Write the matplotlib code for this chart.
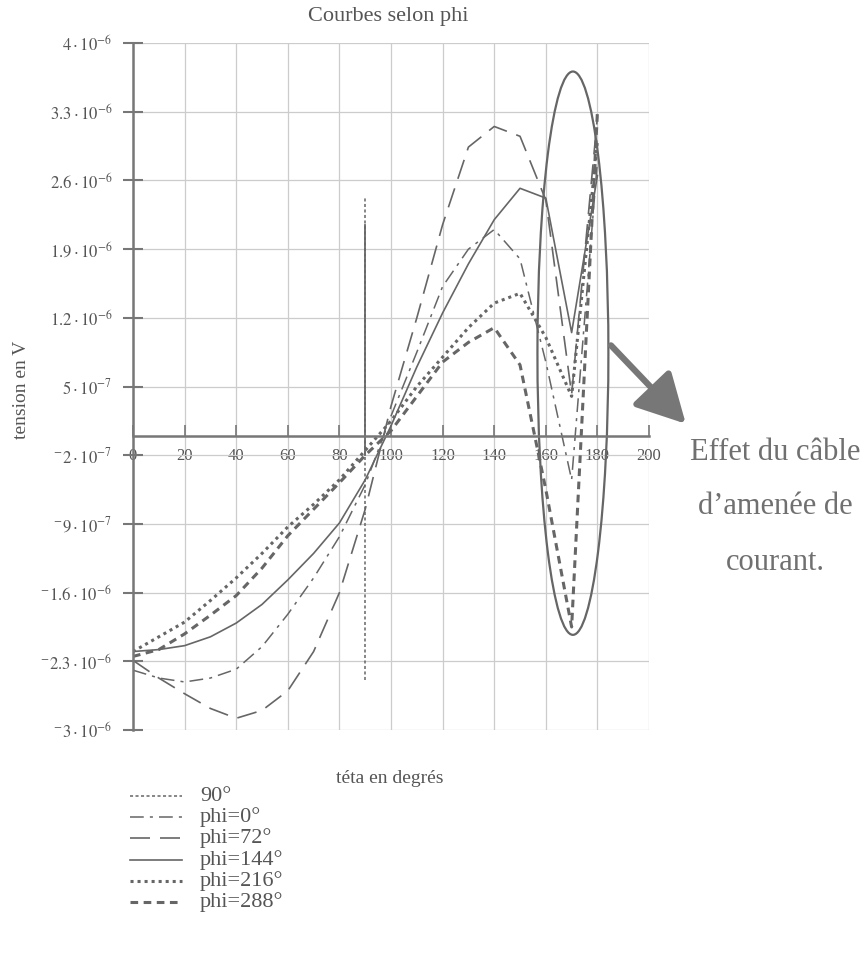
import numpy as np
import matplotlib.pyplot as plt
from matplotlib.patches import Ellipse
from matplotlib.lines import Line2D

plt.rcParams['font.family'] = ['Liberation Serif', 'DejaVu Serif']
plt.rcParams['mathtext.fontset'] = 'stix'

# tensions en microvolts, teta de 0 a 180 par pas de 10
teta = [0, 10, 20, 30, 40, 50, 60, 70, 80, 90, 100, 110, 120, 130, 140, 150, 160, 170, 180]
phi_0 = [-2.39, -2.47, -2.51, -2.47, -2.38, -2.15, -1.82, -1.45, -1.03, -0.5, 0.2, 0.85,
         1.52, 1.9, 2.1, 1.8, 0.75, -0.45, 2.8]
phi_72 = [-2.29, -2.47, -2.63, -2.78, -2.88, -2.8, -2.6, -2.2, -1.6, -0.75, 0.3, 1.2,
          2.15, 2.94, 3.15, 3.05, 2.4, 0.42, 3.25]
phi_144 = [-2.2, -2.18, -2.14, -2.05, -1.91, -1.72, -1.47, -1.2, -0.89, -0.45, 0.1, 0.7,
           1.25, 1.75, 2.2, 2.52, 2.42, 1.05, 2.65]
phi_216 = [-2.2, -2.05, -1.9, -1.68, -1.45, -1.2, -0.93, -0.7, -0.45, -0.15, 0.15, 0.5,
           0.8, 1.1, 1.35, 1.45, 1.0, 0.4, 3.0]
phi_288 = [-2.25, -2.18, -2.02, -1.83, -1.63, -1.35, -1.02, -0.75, -0.48, -0.2, 0.05, 0.4,
           0.75, 0.95, 1.1, 0.72, -0.55, -1.95, 3.3]

# trait vertical a 90 degres
teta_90 = [90, 90]
v_90 = [-2.49, 2.43]
v_90_plein = [-0.2, 2.15]

y_ticks = [-3e-6, -2.3e-6, -1.6e-6, -9e-7, -2e-7, 5e-7, 1.2e-6, 1.9e-6, 2.6e-6, 3.3e-6, 4e-6]
y_labels = [r'$^{-}3\cdot10^{-6}$', r'$^{-}2.3\cdot10^{-6}$', r'$^{-}1.6\cdot10^{-6}$',
            r'$^{-}9\cdot10^{-7}$', r'$^{-}2\cdot10^{-7}$', r'$5\cdot10^{-7}$',
            r'$1.2\cdot10^{-6}$', r'$1.9\cdot10^{-6}$', r'$2.6\cdot10^{-6}$',
            r'$3.3\cdot10^{-6}$', r'$4\cdot10^{-6}$']
x_ticks = [0, 20, 40, 60, 80, 100, 120, 140, 160, 180, 200]

gris = '#666666'
texte = '#555555'
u = 1e-6

fig = plt.figure(figsize=(8.67, 9.63), dpi=100)
ax = fig.add_axes([0.1534, 0.2419, 0.5952, 0.7134])

series = [
    (teta_90, v_90, '90°', dict(ls=(0, (2, 1.6)), lw=1.1)),
    (teta, phi_0, 'phi=0°', dict(ls=(0, (9, 4, 2, 4)), lw=1.1)),
    (teta, phi_72, 'phi=72°', dict(ls=(0, (12, 6)), lw=1.2)),
    (teta, phi_144, 'phi=144°', dict(ls='-', lw=1.2)),
    (teta, phi_216, 'phi=216°', dict(ls=(0, (1, 1.3)), lw=2.2)),
    (teta, phi_288, 'phi=288°', dict(ls=(0, (2.5, 1.8)), lw=2.2)),
]
for x, y, lab, st in series:
    ax.plot(x, np.array(y) * u, color=gris, **st)
ax.plot(teta_90, np.array(v_90_plein) * u, color=gris, lw=1.3)

ax.set_xlim(0, 200)
ax.set_ylim(-3e-6, 4e-6)
ax.set_xticks(x_ticks)
ax.set_xticklabels([str(t) for t in x_ticks])
ax.set_yticks(y_ticks)
ax.set_yticklabels(y_labels)
ax.grid(True, color='#cccccc', lw=0.9)
ax.set_axisbelow(True)

ax.spines['top'].set_visible(False)
ax.spines['right'].set_visible(False)
ax.spines['bottom'].set_position(('data', 0))
for s in ['left', 'bottom']:
    ax.spines[s].set_color('#777777')
    ax.spines[s].set_linewidth(1.8)
ax.tick_params(axis='x', direction='in', length=8, width=1.2, colors='#777777',
               labelcolor=texte, labelsize=12, pad=9)
ax.tick_params(axis='y', direction='inout', length=14, width=1.5, colors='#777777',
               labelcolor=texte, labelsize=12, pad=8)

# ellipse et fleche
ax.add_patch(Ellipse((170.5, 0.84e-6), 27.5, 5.74e-6, fill=False, ec=gris, lw=1.6,
                     clip_on=False))
ax.annotate('', xy=(215, 0.1e-6), xytext=(184.5, 0.94e-6), annotation_clip=False,
            arrowprops=dict(arrowstyle='-|>,head_length=1.5,head_width=0.8',
                            mutation_scale=20, lw=4.5, color='#777777'))

for txt, yy in [('Effet du câble', 452), ('d\u2019amenée de', 507), ('courant.', 562)]:
    fig.text(775 / 867, 1 - yy / 963, txt, ha='center', va='center', fontsize=22,
             color='#707070')

fig.text(388 / 867, 1 - 16 / 963, 'Courbes selon phi', ha='center', va='center',
         fontsize=16, color=texte)
fig.text(390 / 867, 1 - 778 / 963, 'téta en degrés', ha='center', va='center',
         fontsize=14, color=texte)
fig.text(22 / 867, 1 - 390 / 963, 'tension en V', ha='center', va='center',
         rotation=90, fontsize=14, color=texte)

# legende
for i, (x, y, lab, st) in enumerate(series):
    yy = 1 - (796 + 21.2 * i) / 963
    fig.add_artist(Line2D([130 / 867, 182 / 867], [yy, yy], color=gris,
                          transform=fig.transFigure, **st))
    fig.text(200 / 867, yy, lab, ha='left', va='center', fontsize=16, color=texte)

fig.savefig('out.png', dpi=100)
